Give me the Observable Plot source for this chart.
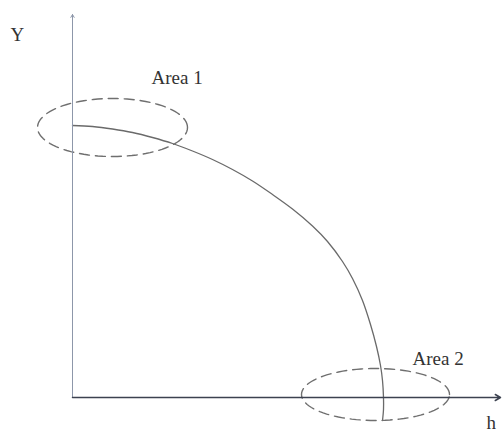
<!DOCTYPE html>
<html>
<head>
<meta charset="utf-8">
<script src="https://cdn.jsdelivr.net/npm/d3@7"></script>
<script src="https://cdn.jsdelivr.net/npm/@observablehq/plot@0.6"></script>
<style>
  html, body { margin: 0; padding: 0; background: #fff; }
  #chart svg { display: block; }
</style>
</head>
<body>
<div id="chart"></div>
<script>
// Curve (h, Y), in the chart's own units (origin at the axes' corner)
const curveH = [0, 20, 40, 60, 80, 100, 120, 140, 160, 180, 200, 220, 240, 255, 270, 280, 290, 298, 304, 308, 310, 311, 311, 310];
const curveY = [272, 271, 268.5, 265, 260, 254, 246.5, 238, 228, 216.5, 203, 188.5, 171.5, 156, 136, 119, 97, 73, 51, 32, 17, 0, -12, -23];

// Highlighted areas: centre and half-axes
const areaNames = ["Area 1", "Area 2"];
const areaCx = [40, 303];
const areaCy = [270, 3];
const areaRx = [75, 74];
const areaRy = [29, 26];
const areaLabelX = [79, 340];
const areaLabelY = [314, 33];

// Axis extents and labels
const axisNames = ["h", "Y"];
const axisEndX = [428, 0];
const axisEndY = [0, 383];
const axisLabelX = [414, -62];
const axisLabelY = [-31, 357];

const curve = curveH.map((h, i) => ({h, Y: curveY[i]}));

const ellipsePts = [];
areaNames.forEach((name, k) => {
  for (let i = 0; i <= 96; i++) {
    const t = (i / 96) * 2 * Math.PI;
    ellipsePts.push({area: name, h: areaCx[k] + areaRx[k] * Math.cos(t), Y: areaCy[k] + areaRy[k] * Math.sin(t)});
  }
});

const axes = axisNames.map((n, i) => ({name: n, x2: axisEndX[i], y2: axisEndY[i]}));
const areaLabels = areaNames.map((n, i) => ({text: n, h: areaLabelX[i], Y: areaLabelY[i]}));
const axisLabels = axisNames.map((n, i) => ({text: n, h: axisLabelX[i], Y: axisLabelY[i]}));

const chart = Plot.plot({
  width: 502,
  height: 437,
  margin: 0,
  x: {domain: [-72, 430], range: [0, 502], axis: null},
  y: {domain: [-40, 397], range: [437, 0], axis: null},
  style: {fontFamily: "'Liberation Serif', serif", background: "#fff"},
  marks: [
    Plot.line(curve, {x: "h", y: "Y", stroke: "#6a6a6a", strokeWidth: 1.3, curve: "catmull-rom"}),
    Plot.line(ellipsePts, {x: "h", y: "Y", z: "area", stroke: "#6f6f6f", strokeWidth: 1.4, strokeDasharray: "10,6"}),
    Plot.arrow([axes[1]], {x1: 0, y1: 0, x2: "x2", y2: "y2", stroke: "#8d97aa", strokeWidth: 1, headLength: 5}),
    Plot.arrow([axes[0]], {x1: 0, y1: 0, x2: "x2", y2: "y2", stroke: "#3c4250", strokeWidth: 1.5, headLength: 6}),
    Plot.text(areaLabels, {x: "h", y: "Y", text: "text", textAnchor: "start", lineAnchor: "bottom", fontSize: 19, fill: "#333"}),
    Plot.text(axisLabels, {x: "h", y: "Y", text: "text", textAnchor: "start", lineAnchor: "bottom", fontSize: 19, fill: "#333"})
  ]
});
document.getElementById("chart").appendChild(chart);
</script>
</body>
</html>
